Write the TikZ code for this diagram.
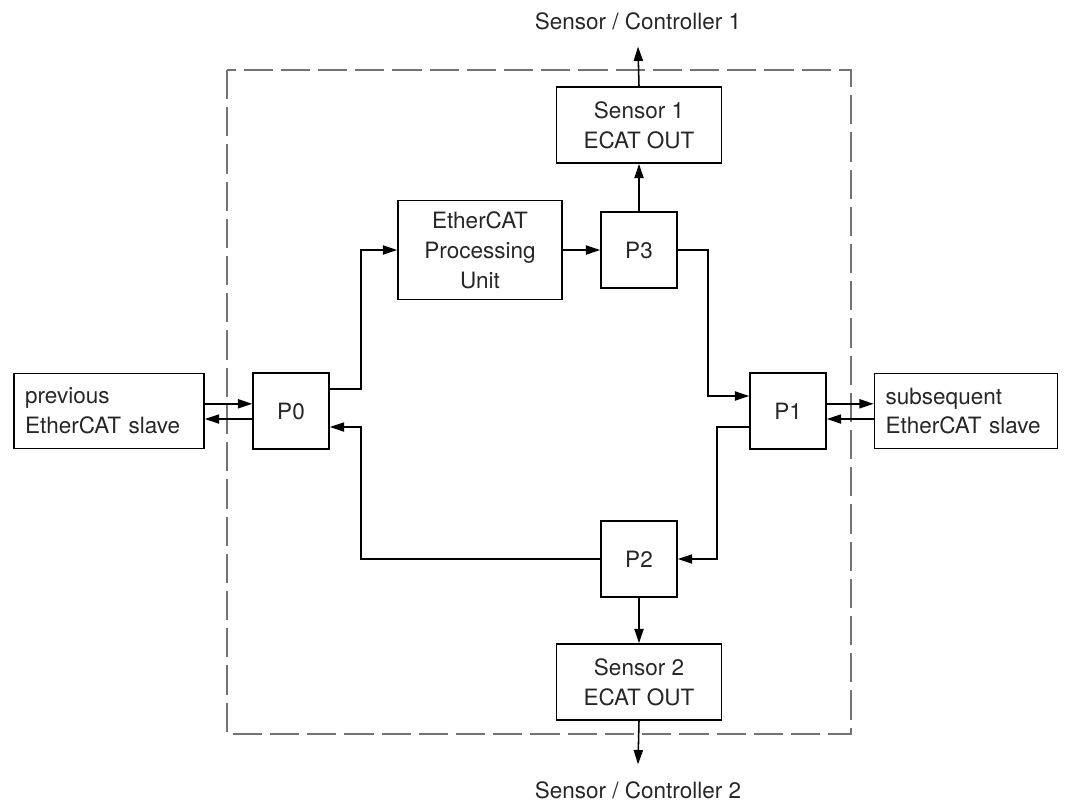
\documentclass[tikz,border=0pt]{standalone}
\usepackage{fontspec}
\setmainfont{TeX Gyre Heros}
\usetikzlibrary{arrows.meta}

\begin{document}
\begin{tikzpicture}[
	x=0.025cm, y=-0.025cm,
	font=\fontsize{16}{21.3}\selectfont,
		base/.style = {draw, line width=1.1pt, text=black!85,
									 inner sep=0pt, align=center},
		port/.style = {base, minimum width=19mm, minimum height=19mm},
	 sensor/.style = {base, minimum width=41.25mm, minimum height=19mm},
	 slave/.style = {base, minimum height=18.75mm, align=left,
									 text width=#1, inner xsep=2.8mm},
		 arr/.style = {line width=1.1pt, -{Triangle[length=3.6mm,width=2.3mm]}},
	frame/.style = {draw=black!55, line width=0.8pt,
									 dash pattern=on 7.3mm off 2mm}]
\useasboundingbox (0,0) rectangle (1065,803);

% dashed outline of the device
\draw [frame] (227,70) rectangle (851,734);

\node (EPU) [base, minimum width=41mm, minimum height=24.75mm]
			at (480,250) {EtherCAT\\Processing\\Unit};
\node (P0) [port] at (291,411) {P0};
\node (P1) [port] at (788,411) {P1};
\node (P2) [port] at (639,559) {P2};
\node (P3) [port] at (639,250) {P3};
\node (S1) [sensor] at (639,125) {Sensor 1\\ECAT OUT};
\node (S2) [sensor] at (639,682) {Sensor 2\\ECAT OUT};

%
\node (prev) [slave=41.9mm] at (109,411) {previous\\EtherCAT slave};
\node (next) [slave=40.15mm] at (966,411) {subsequent\\EtherCAT slave};

\node (C1) [text=black!85] at (638,21) {Sensor / Controller 1};
\node (C2) [text=black!85] at (638,790) {Sensor / Controller 2};

%%
\draw [arr] ([yshift=5.5mm]P0.east) -- ++(31,0) |- (EPU.west);
\draw [arr] (EPU.east) -- (P3.west);
\draw [arr] (P3.east) -| ([xshift=-10.25mm,yshift=3.75mm]P1.west)
									 -- ([yshift=3.75mm]P1.west);
\draw [arr] ([yshift=-4mm]P1.west) -- ++(-32,0) |- (P2.east);
\draw [arr] (P2.west) -| ([xshift=7.75mm,yshift=-4mm]P0.east)
									 -- ([yshift=-4mm]P0.east);
\draw [arr] (P3) -- (S1);
\draw [arr] (P2) -- (S2);
\draw [arr] (S1.north) -- ([yshift=-3mm]C1.south);
\draw [arr] (S2.south) -- ([yshift=3mm]C2.north);
% links to neighbouring slaves
\draw [arr] ([yshift=1.8mm]prev.east) -- ([yshift=1.8mm]P0.west);
\draw [arr] ([yshift=-2mm]P0.west) -- ([yshift=-2mm]prev.east);
\draw [arr] ([yshift=1.8mm]P1.east) -- ([yshift=1.8mm]next.west);
\draw [arr] ([yshift=-2mm]next.west) -- ([yshift=-2mm]P1.east);
\end{tikzpicture}
\end{document}
